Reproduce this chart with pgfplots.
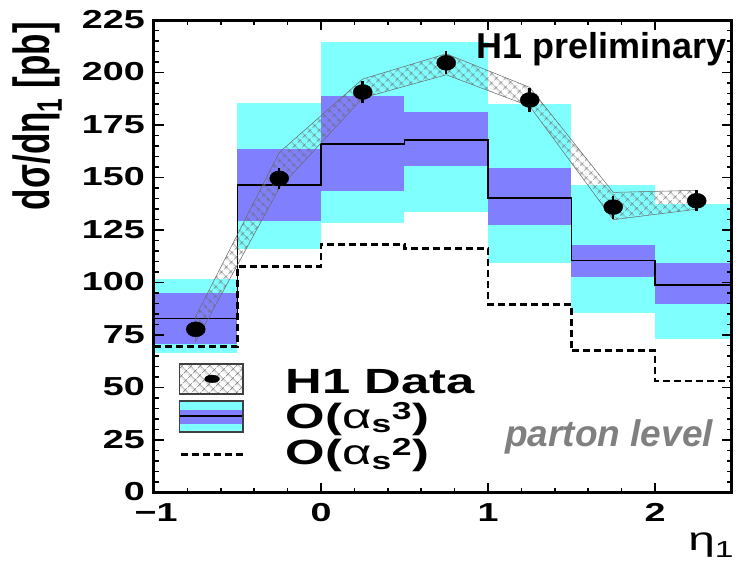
\documentclass[border=0pt]{standalone}
\usepackage{graphicx}
\usepackage{pgfplots}
\pgfplotsset{compat=1.18}
\usepackage{fontspec}
\setmainfont{Liberation Sans}
\usetikzlibrary{patterns.meta}
\definecolor{cyanband}{RGB}{128,255,255}
\definecolor{blueband}{RGB}{128,128,255}
\definecolor{hatchgray}{RGB}{105,105,105}
\definecolor{textgray}{RGB}{128,128,128}
\newcommand\sx[1]{\scalebox{1.45}[1]{#1}}
\newcommand\tickfont{\bfseries\fontsize{26}{30}\selectfont}
\newcommand\legfont{\bfseries\fontsize{35}{40}\selectfont}
\begin{document}
\begin{tikzpicture}
\begin{axis}[
  at={(0,0)}, anchor=south west,
  scale only axis, width=577.8pt, height=472.5pt,
  xmin=-1, xmax=2.46, ymin=0, ymax=225,
  axis line style={line width=3pt},
  xtick={-1,0,1,2}, xticklabels={\sx{\kern3pt−1},\sx{0},\sx{1},\sx{2}},
  ytick={0,25,50,75,100,125,150,175,200,225},
  yticklabels={\sx{0},\sx{25},\sx{50},\sx{75},\sx{100},\sx{125},\sx{150},\sx{175},\sx{200},\sx{225}},
  minor x tick num=4, minor y tick num=4,
  major tick length=10pt, minor tick length=5pt,
  tick style={line width=1.5pt, black},
  xticklabel style={font=\tickfont, inner sep=0pt, yshift=-10.5pt},
  yticklabel style={font=\tickfont, inner sep=0pt, xshift=-9pt, yshift=1pt},
  clip=false,
  axis on top,
]
% O(as^3) outer (cyan) bands
\addplot[fill=cyanband, draw=none] coordinates {(-1,66.7) (-0.5,66.7) (-0.5,101.6) (-1,101.6)} -- cycle;
\addplot[fill=cyanband, draw=none] coordinates {(-0.5,116) (0,116) (0,185.6) (-0.5,185.6)} -- cycle;
\addplot[fill=cyanband, draw=none] coordinates {(0,128.6) (0.5,128.6) (0.5,214.8) (0,214.8)} -- cycle;
\addplot[fill=cyanband, draw=none] coordinates {(0.5,133.8) (1,133.8) (1,214.8) (0.5,214.8)} -- cycle;
\addplot[fill=cyanband, draw=none] coordinates {(1,109.2) (1.5,109.2) (1.5,185) (1,185)} -- cycle;
\addplot[fill=cyanband, draw=none] coordinates {(1.5,85.7) (2,85.7) (2,146.5) (1.5,146.5)} -- cycle;
\addplot[fill=cyanband, draw=none] coordinates {(2,73.2) (2.46,73.2) (2.46,137.5) (2,137.5)} -- cycle;
% inner (blue) bands
\addplot[fill=blueband, draw=none] coordinates {(-1,71) (-0.5,71) (-0.5,95) (-1,95)} -- cycle;
\addplot[fill=blueband, draw=none] coordinates {(-0.5,129.5) (0,129.5) (0,163.7) (-0.5,163.7)} -- cycle;
\addplot[fill=blueband, draw=none] coordinates {(0,143.8) (0.5,143.8) (0.5,188.9) (0,188.9)} -- cycle;
\addplot[fill=blueband, draw=none] coordinates {(0.5,155.7) (1,155.7) (1,181.4) (0.5,181.4)} -- cycle;
\addplot[fill=blueband, draw=none] coordinates {(1,127.5) (1.5,127.5) (1.5,154.5) (1,154.5)} -- cycle;
\addplot[fill=blueband, draw=none] coordinates {(1.5,102.9) (2,102.9) (2,118) (1.5,118)} -- cycle;
\addplot[fill=blueband, draw=none] coordinates {(2,89.7) (2.46,89.7) (2.46,109.2) (2,109.2)} -- cycle;
% central O(as^3)
\addplot[const plot, black, line width=1.6pt] coordinates {(-1,82.9) (-0.5,146.5) (0,166) (0.5,168) (1,140.3) (1.5,110.5) (2,98.9) (2.46,98.9)};
% O(as^2)
\addplot[const plot, black, line width=2.5pt, dash pattern=on 7pt off 4pt] coordinates {(-1,69.7) (-0.5,107.6) (0,118.3) (0.5,116.4) (1,89.7) (1.5,67.6) (2,53.2) (2.46,53.2)};
% data systematic band
\addplot[draw=hatchgray, line width=0.5pt, pattern={Hatch[angle=45,distance=6.5pt,line width=0.6pt]}, pattern color=hatchgray] coordinates {
 (-0.75,84) (-0.25,162) (0.25,197) (0.75,209) (1.25,193) (1.75,143) (2.25,144)
 (2.25,135) (1.75,130) (1.25,184) (0.75,199) (0.25,188) (-0.25,145) (-0.75,72)} -- cycle;
% data points
\addplot[only marks, mark=*, mark size=7.5pt, mark options={xscale=1.27, fill=black, draw=black},
  error bars/.cd, y dir=both, y explicit, error bar style={line width=2.5pt, black}, error mark=none]
  coordinates {(-0.75,77.8) +- (0,3) (-0.25,149.7) +- (0,5) (0.25,190.8) +- (0,5.3) (0.75,204.7) +- (0,5.5)
  (1.25,187) +- (0,5.6) (1.75,136) +- (0,5.5) (2.25,139) +- (0,5)};
% legend
\draw[draw=darkgray, line width=1.5pt, pattern={Hatch[angle=45,distance=6.5pt,line width=0.6pt]}, pattern color=hatchgray]
  (axis cs:-0.848,47.0) rectangle (axis cs:-0.467,61.4);
\addplot[only marks, mark=*, mark size=3.8pt, mark options={xscale=1.95, fill=black, draw=black}] coordinates {(-0.652,54.2)};
\fill[cyanband] (axis cs:-0.848,28.9) rectangle (axis cs:-0.467,43.67);
\fill[blueband] (axis cs:-0.848,32.71) rectangle (axis cs:-0.467,39.38);
\draw[black, line width=2.5pt] (axis cs:-0.848,36.52) -- (axis cs:-0.467,36.52);
\draw[darkgray, line width=1.5pt] (axis cs:-0.848,28.9) rectangle (axis cs:-0.467,43.67);
\draw[black, line width=2.5pt, dash pattern=on 7pt off 4pt] (axis cs:-0.840,18.3) -- (axis cs:-0.461,18.3);
\node[anchor=base west, inner sep=0pt, font=\legfont] at (axis cs:-0.212,47.0) {\sx{H1 Data}};
\node[anchor=base west, inner sep=0pt, font=\legfont] at (axis cs:-0.212,30.7) {\sx{O({\mdseries α}\textsubscript{s}\textsuperscript{3})}};
\node[anchor=base west, inner sep=0pt, font=\legfont] at (axis cs:-0.212,13.2) {\sx{O({\mdseries α}\textsubscript{s}\textsuperscript{2})}};
% texts
\node[anchor=base west, inner sep=0pt, font=\bfseries\fontsize{36}{40}\selectfont] at (axis cs:0.932,206.9) {H1 preliminary};
\node[anchor=base west, inner sep=0pt, text=textgray, font=\bfseries\itshape\fontsize{37}{40}\selectfont] at (axis cs:1.102,21.9) {parton level};
\node[rotate=90, anchor=base east, inner sep=0pt, font=\bfseries\fontsize{35}{40}\selectfont] at (axis cs:-1.623,224.1) {\scalebox{1}[1.45]{dσ/dη\textsubscript{1} [pb]}};
\node[anchor=base west, inner sep=0pt, font=\fontsize{33}{36}\selectfont] at (axis cs:2.198,-27.3) {\sx{η\textsubscript{1}}};
\end{axis}
\pgfresetboundingbox
\path[use as bounding box] (-154pt,-71.3pt) rectangle (582pt,492.7pt);
\end{tikzpicture}
\end{document}
